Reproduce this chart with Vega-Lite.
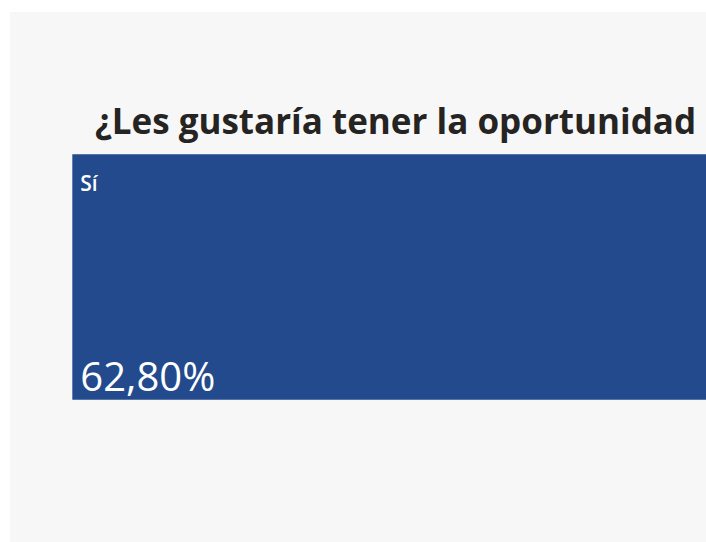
{
  "$schema": "https://vega.github.io/schema/vega-lite/v6.json",
  "autosize": {"type": "fit", "contains": "padding"},
  "width": 706,
  "height": 542,
  "padding": {"left": 10, "top": 12, "right": 0, "bottom": 0},
  "background": "#ffffff",
  "config": {
    "view": {"fill": "#f7f7f7", "stroke": null},
    "locale": {"number": {"decimal": ",", "thousands": ".", "grouping": [3], "currency": ["", " €"]}},
    "font": "Open Sans"
  },
  "title": {
    "text": "¿Les gustaría tener la oportunidad",
    "anchor": "start",
    "frame": "group",
    "orient": "top",
    "offset": -157,
    "dx": 85,
    "baseline": "alphabetic",
    "font": "Open Sans",
    "fontSize": 35,
    "fontWeight": "bold",
    "color": "#252423"
  },
  "data": {
    "values": [
      {"pregunta": "¿Les gustaría tener la oportunidad?", "respuesta": "Sí", "proporcion": 0.628},
      {"pregunta": "¿Les gustaría tener la oportunidad?", "respuesta": "No", "proporcion": 0.372}
    ]
  },
  "encoding": {
    "y": {
      "field": "pregunta",
      "type": "nominal",
      "axis": null,
      "scale": {"paddingInner": 0, "paddingOuter": 0.58}
    }
  },
  "layer": [
    {
      "mark": {"type": "bar", "clip": true},
      "encoding": {
        "x": {
          "field": "proporcion",
          "type": "quantitative",
          "stack": "zero",
          "axis": null,
          "scale": {"domain": [-0.059, 0.6], "zero": false, "nice": false}
        },
        "order": {"field": "respuesta", "sort": "descending"},
        "color": {
          "field": "respuesta",
          "type": "nominal",
          "legend": null,
          "scale": {"domain": ["Sí", "No"], "range": ["#224a8d", "#12239e"]}
        }
      }
    },
    {
      "transform": [{"filter": "datum.respuesta === 'Sí'"}],
      "mark": {"type": "text", "align": "left", "baseline": "alphabetic", "dx": 8, "dy": 37, "fontSize": 21, "fontWeight": 600, "color": "#ffffff"},
      "encoding": {
        "x": {"datum": 0, "type": "quantitative"},
        "y": {"field": "pregunta", "type": "nominal", "bandPosition": 0},
        "text": {"field": "respuesta"}
      }
    },
    {
      "transform": [{"filter": "datum.respuesta === 'Sí'"}],
      "mark": {"type": "text", "align": "left", "baseline": "alphabetic", "dx": 8, "dy": -9, "fontSize": 40, "color": "#ffffff"},
      "encoding": {
        "x": {"datum": 0, "type": "quantitative"},
        "y": {"field": "pregunta", "type": "nominal", "bandPosition": 1},
        "text": {"field": "proporcion", "format": ".2%"}
      }
    }
  ]
}
